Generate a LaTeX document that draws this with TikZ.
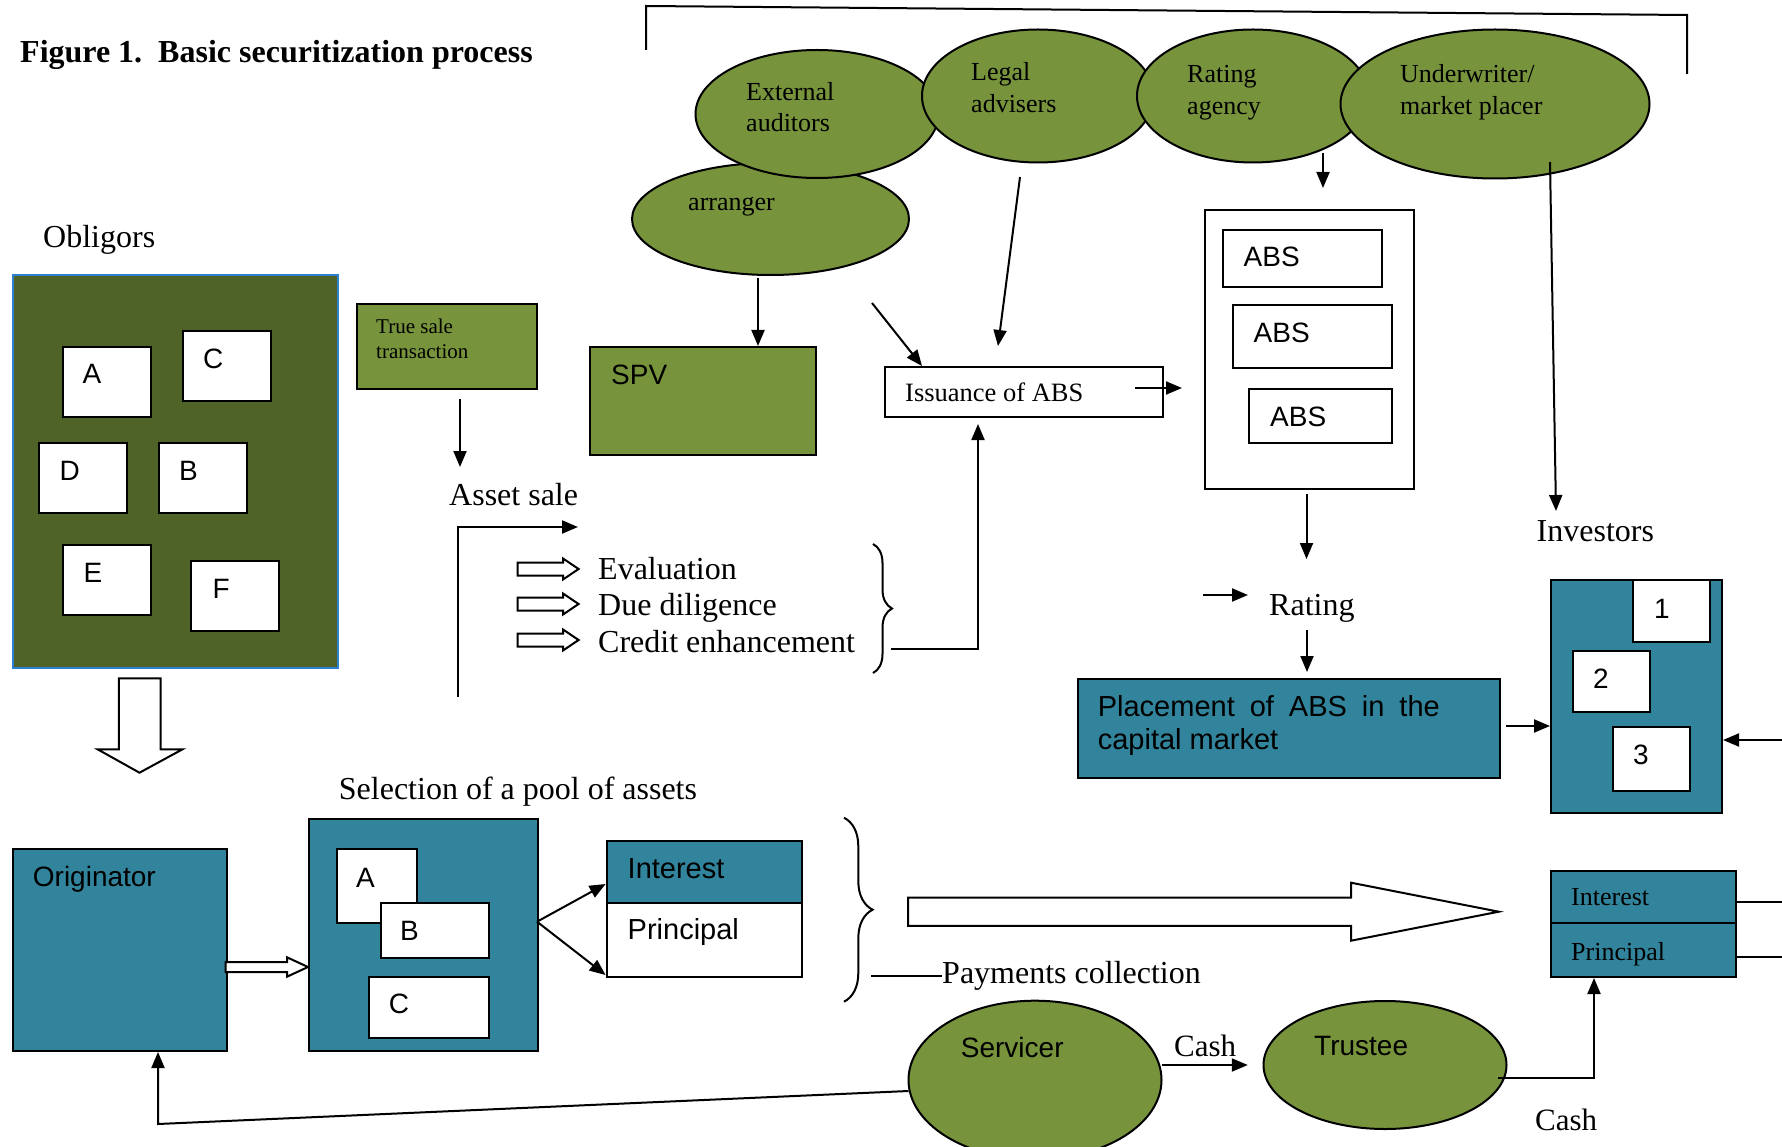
\documentclass[tikz,border=0pt]{standalone}
\usepackage{fontspec}
\setmainfont{Liberation Serif}
\setsansfont{Liberation Sans}
\usetikzlibrary{arrows.meta,shapes.geometric,decorations.pathreplacing}
\definecolor{cOlive}{HTML}{77933C}
\definecolor{cDark}{HTML}{4F6228}
\definecolor{cTeal}{HTML}{31849B}
\definecolor{cBlue}{HTML}{2E80D0}
% style, name, x1, y1, x2, y2  (top-left / bottom-right, in px)
\newcommand\rbox[6]{\node[#1,minimum width={#5-#3},minimum height={#6-#4}] (#2) at (#3,#4) {};}
% x tail, x head base, x tip, y centre, shaft half, head half
\newcommand\harrow[6]{\draw[hollow] (#1,#4-#5) -- (#2,#4-#5) -- (#2,#4-#6) -- (#3,#4) -- (#2,#4+#6) -- (#2,#4+#5) -- (#1,#4+#5) -- cycle;}
\tikzset{
 bx/.style={rectangle,draw=black,line width=2pt,inner sep=0pt,anchor=north west},
 wbx/.style={bx,fill=white},
 obx/.style={bx,fill=cOlive},
 tbx/.style={bx,fill=cTeal},
 ell/.style={ellipse,draw=black,line width=2pt,fill=cOlive,inner sep=0pt},
 tm/.style={inner sep=0pt,anchor=base west,font=\fontsize{32}{38}\selectfont},
 tmS/.style={inner sep=0pt,anchor=base west,font=\fontsize{26}{31}\selectfont},
 sf/.style={inner sep=0pt,anchor=base west,font=\sffamily\fontsize{28}{33}\selectfont},
 con/.style={line width=2pt,-{Triangle[length=16pt,width=13pt]}},
 ln/.style={line width=2pt},
 hollow/.style={draw=black,fill=white,line width=2pt,line join=miter},
 brc/.style={decorate,decoration={brace,amplitude=#1},line width=2pt},
}
\begin{document}
\begin{tikzpicture}[x=1pt,y=-1pt]
\useasboundingbox (0,0) rectangle (1782,1147);

% ---------- title ----------
\node[tm,font=\bfseries\fontsize{32}{38}\selectfont] (title) at (20,63) {Figure 1.\ \ Basic securitization process};

% ---------- top bracket ----------
\coordinate (brL) at (646,50); \coordinate (brLT) at (646,6);
\coordinate (brRT) at (1687,15); \coordinate (brR) at (1687,74);
\draw[ln] (brL) -- (brLT) -- (brRT) -- (brR);

% ---------- ellipses (parties) ----------
\node[ell,minimum width=277,minimum height=112] (arr) at (770.5,219) {};
\node[ell,minimum width=243,minimum height=128] (aud) at (817,114) {};
\node[ell,minimum width=232,minimum height=133] (leg) at (1038,96) {};
\node[ell,minimum width=232,minimum height=133] (rat) at (1253,96) {};
\node[ell,minimum width=309,minimum height=149] (und) at (1495,104) {};
\node[tmS] (arrT) at (688,211) {arranger};
\node[tmS] (audT1) at (746,101) {External};
\node[tmS] (audT2) at (746,132) {auditors};
\node[tmS] (legT1) at (971,81) {Legal};
\node[tmS] (legT2) at (971,113) {advisers};
\node[tmS] (ratT1) at (1187,83) {Rating};
\node[tmS] (ratT2) at (1187,115) {agency};
\node[tmS] (undT1) at (1400,83) {Underwriter/};
\node[tmS] (undT2) at (1400,115) {market placer};

% ---------- obligors ----------
\node[tm] (oblT) at (43,248) {Obligors};
\rbox{bx,fill=cDark,draw=cBlue}{obl}{11.5}{274}{336.8}{666.7}
\rbox{wbx}{oA}{62}{346}{150}{415.7}
\rbox{wbx}{oC}{181.8}{330}{269.8}{400}
\rbox{wbx}{oD}{37.5}{442}{126.3}{512.3}
\rbox{wbx}{oB}{157.7}{442}{245.7}{512.3}
\rbox{wbx}{oE}{62}{544}{150}{614}
\rbox{wbx}{oF}{190.2}{560}{278.2}{630}
\node[sf] (oAT) at (82.3,383) {A};
\node[sf] (oCT) at (202.8,368) {C};
\node[sf] (oDT) at (59.3,480) {D};
\node[sf] (oBT) at (179,480) {B};
\node[sf] (oET) at (83.4,582) {E};
\node[sf] (oFT) at (212.4,598) {F};
\draw[hollow] (118.8,678.3) -- (160.7,678.3) -- (160.7,749.3) -- (182.5,749.3) -- (139.5,772.7) -- (97.6,749.3) -- (118.8,749.3) -- cycle;

% ---------- true sale / SPV ----------
\rbox{obx}{tsale}{356}{303}{536}{388}
\node[inner sep=0pt,anchor=base west,font=\fontsize{21}{25}\selectfont] (tsT1) at (376,334) {True sale};
\node[inner sep=0pt,anchor=base west,font=\fontsize{21}{25}\selectfont] (tsT2) at (376,359) {transaction};
\node[tm] (asale) at (449,505) {Asset sale};
\rbox{obx}{spv}{589}{346}{815}{454}
\node[sf] (spvT) at (611,384) {SPV};

% ---------- evaluation list ----------
\harrow{517.5}{563}{578.6}{569}{6.5}{10.5}
\harrow{517.5}{563}{578.6}{604}{6.5}{10.5}
\harrow{517.5}{563}{578.6}{640}{6.5}{10.5}
\node[tm] (ev1) at (598,579) {Evaluation};
\node[tm] (ev2) at (598,615) {Due diligence};
\node[tm] (ev3) at (598,652) {Credit enhancement};
\draw[brc=19pt] (873,544) -- (873,673);

% ---------- issuance / ABS ----------
\rbox{wbx}{iss}{883.5}{366}{1162}{416}
\node[inner sep=0pt,anchor=base west,font=\fontsize{26.5}{31}\selectfont] (issT) at (905,401) {Issuance of ABS};
\rbox{wbx}{absO}{1204}{209}{1413}{488}
\rbox{wbx}{abs1}{1222}{229}{1381}{286.5}
\rbox{wbx}{abs2}{1232}{304}{1391}{366.5}
\rbox{wbx}{abs3}{1248}{388}{1391}{442}
\node[sf] (abs1T) at (1243.5,267) {ABS};
\node[sf] (abs2T) at (1253.5,342) {ABS};
\node[sf] (abs3T) at (1270,426) {ABS};

% ---------- rating / placement / investors ----------
\node[tm] (ratingT) at (1269,615) {Rating};
\rbox{tbx}{plc}{1076.5}{678}{1499}{777}
\node[sf,font=\sffamily\fontsize{29}{33}\selectfont] (plcT1) at (1097.6,716) {\makebox[342pt][s]{Placement of ABS in the}};
\node[sf,font=\sffamily\fontsize{29}{33}\selectfont] (plcT2) at (1097.6,749.3) {capital market};
\node[tm] (invT) at (1536.5,541) {Investors};
\rbox{tbx}{inv}{1550}{579}{1721}{812}
\rbox{wbx}{inv1}{1632}{579}{1709}{641}
\rbox{wbx}{inv2}{1572}{650}{1649}{711}
\rbox{wbx}{inv3}{1612}{726}{1689}{790}
\node[sf] (inv1T) at (1654,618) {1};
\node[sf] (inv2T) at (1593,688) {2};
\node[sf] (inv3T) at (1633,764) {3};

% ---------- right interest / principal ----------
\rbox{tbx}{rInt}{1550}{870}{1735}{922}
\rbox{tbx}{rPri}{1550}{922}{1735}{976}
\node[tmS] (rIntT) at (1571,905) {Interest};
\node[tmS] (rPriT) at (1571,960) {Principal};

% ---------- originator / pool ----------
\rbox{tbx}{orig}{11.5}{848}{225.6}{1050}
\node[sf] (origT) at (32.7,886) {Originator};
\harrow{225.6}{287}{308}{967}{5}{9.7}
\node[tm] (selT) at (338.7,799) {Selection of a pool of assets};
\rbox{tbx}{pool}{308}{818}{537}{1050}
\rbox{wbx}{pA}{336}{848}{416}{922}
\rbox{wbx}{pB}{380}{902}{488}{957}
\rbox{wbx}{pC}{368}{976}{488}{1037}
\node[sf] (pAT) at (356,887) {A};
\node[sf] (pBT) at (400,940) {B};
\node[sf] (pCT) at (388.6,1013) {C};
\rbox{tbx}{lInt}{605.6}{840}{800.8}{902}
\rbox{wbx}{lPri}{605.6}{902}{800.8}{976}
\node[sf,font=\sffamily\fontsize{29}{33}\selectfont] (lIntT) at (627.5,878) {Interest};
\node[sf,font=\sffamily\fontsize{29}{33}\selectfont] (lPriT) at (627.5,939) {Principal};
\draw[brc=28.6pt] (844,817.7) -- (844,1001.7);
\harrow{908}{1351}{1498.7}{911.7}{14.2}{29}
\node[tm] (payT) at (942,983) {Payments collection};

% ---------- servicer / trustee ----------
\node[ell,minimum width=253,minimum height=158.6] (ser) at (1035,1080) {};
\node[ell,minimum width=243,minimum height=128] (tru) at (1385,1065) {};
\node[sf] (serT) at (960.7,1057) {Servicer};
\node[sf] (truT) at (1314,1055) {Trustee};
\node[inner sep=0pt,anchor=base west,font=\fontsize{31}{36}\selectfont] (cash1) at (1174,1056) {Cash};
\node[inner sep=0pt,anchor=base west,font=\fontsize{31}{36}\selectfont] (cash2) at (1535,1130) {Cash};

% ---------- connectors ----------
\coordinate (a1) at (1323,153); \coordinate (a1e) at (1323,188);
\draw[con] (a1) -- (a1e);
\coordinate (a2) at (1550,162); \coordinate (a2e) at (1556,511);
\draw[con] (a2) -- (a2e);
\coordinate (a3) at (1020,177); \coordinate (a3e) at (998,346);
\draw[con] (a3) -- (a3e);
\coordinate (a4) at (872,303); \coordinate (a4e) at (922,366);
\draw[con] (a4) -- (a4e);
\coordinate (a5) at (758,278);
\draw[con] (a5) -- (a5 |- spv.north);
\coordinate (a6) at (460,399); \coordinate (a6e) at (460,467);
\draw[con] (a6) -- (a6e);
\coordinate (a7) at (458,697); \coordinate (a7c) at (458,527); \coordinate (a7e) at (578,527);
\draw[con] (a7) -- (a7c) -- (a7e);
\coordinate (a8) at (891,649); \coordinate (a8c) at (978,649); \coordinate (a8e) at (978,424);
\draw[con] (a8) -- (a8c) -- (a8e);
\coordinate (a9) at (1135,388); \coordinate (a9e) at (1182,388);
\draw[con] (a9) -- (a9e);
\coordinate (a10) at (1306.5,494); \coordinate (a10e) at (1306.5,559);
\draw[con] (a10) -- (a10e);
\coordinate (a11) at (1203,595); \coordinate (a11e) at (1248,595);
\draw[con] (a11) -- (a11e);
\coordinate (a12) at (1307,630); \coordinate (a12e) at (1307,672);
\draw[con] (a12) -- (a12e);
\coordinate (a13) at (1506,726);
\draw[con] (a13) -- (a13 -| inv.west);
\coordinate (a14) at (1782,740);
\draw[con] (a14) -- (a14 -| inv.east);
\coordinate (a15) at (1782,902);
\draw[ln] (a15 -| rInt.east) -- (a15);
\coordinate (a16) at (1782,957);
\draw[ln] (a16 -| rPri.east) -- (a16);
\coordinate (a17) at (537,921.7); \coordinate (a17a) at (605.6,884); \coordinate (a17b) at (605.6,975);
\draw[con] (a17) -- (a17a);
\draw[con] (a17) -- (a17b);
\coordinate (a18) at (871,976);
\draw[ln] (a18) -- (a18 -| payT.west);
\coordinate (a19) at (1161.6,1065); \coordinate (a19e) at (1247.8,1065);
\draw[con] (a19) -- (a19e);
\coordinate (a20) at (1498,1078); \coordinate (a20c) at (1594,1078);
\draw[con] (a20) -- (a20c) -- (a20c |- rPri.south);
\coordinate (a21) at (908.5,1091); \coordinate (a21c) at (158,1124);
\draw[con] (a21) -- (a21c) -- (a21c |- orig.south);
\end{tikzpicture}
\end{document}
